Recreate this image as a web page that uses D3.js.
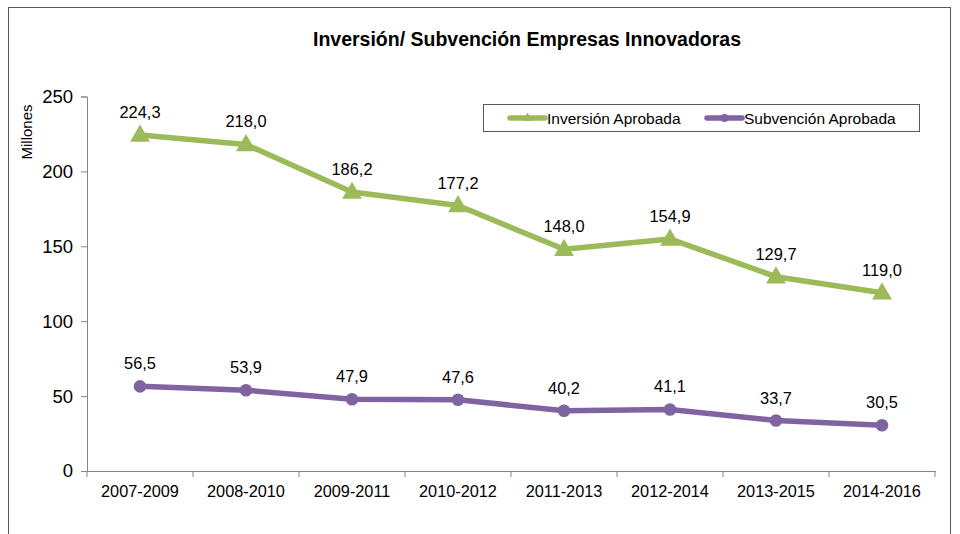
<!DOCTYPE html>
<html>
<head>
<meta charset="utf-8">
<script src="https://cdn.jsdelivr.net/npm/d3@7"></script>
<style>
  html, body { margin: 0; padding: 0; background: #fff; }
  svg { display: block; font-family: Arial, "Liberation Sans", sans-serif; }
</style>
</head>
<body>
<script>
const periods = ["2007-2009", "2008-2010", "2009-2011", "2010-2012", "2011-2013", "2012-2014", "2013-2015", "2014-2016"];
const inversion = [224.3, 218.0, 186.2, 177.2, 148.0, 154.9, 129.7, 119.0];
const subvencion = [56.5, 53.9, 47.9, 47.6, 40.2, 41.1, 33.7, 30.5];
const yTicks = [0, 50, 100, 150, 200, 250];

const series = [
  { name: "Inversión Aprobada", values: inversion, color: "#9BBB59", marker: "triangle" },
  { name: "Subvención Aprobada", values: subvencion, color: "#8064A2", marker: "circle" }
];

const width = 960, height = 534;
const margin = { top: 96.5, right: 25, bottom: 63, left: 87 };
const innerW = width - margin.left - margin.right;
const innerH = height - margin.top - margin.bottom;

const fmt = (v) => v.toFixed(1).replace(".", ",");

const svg = d3.select("body").append("svg")
  .attr("width", width)
  .attr("height", height);

// outer frame
svg.append("rect")
  .attr("x", 8.5).attr("y", 7.5)
  .attr("width", 942).attr("height", 530)
  .attr("fill", "none")
  .attr("stroke", "#595959")
  .attr("stroke-width", 1);

svg.append("text")
  .attr("x", 527).attr("y", 46)
  .attr("text-anchor", "middle")
  .attr("font-size", 19.5)
  .attr("font-weight", "bold")
  .attr("fill", "#000")
  .text("Inversión/ Subvención Empresas Innovadoras");

const root = svg.append("g").attr("transform", `translate(${margin.left},${margin.top})`);

const x = d3.scaleBand().domain(periods).range([0, innerW]);
const y = d3.scaleLinear().domain([0, 250]).range([innerH, 0]);

// y axis
const yAxis = root.append("g")
  .call(d3.axisLeft(y).tickValues(yTicks).tickSize(6).tickPadding(8));
yAxis.select(".domain").attr("stroke", "#868686");
yAxis.selectAll(".tick line").attr("stroke", "#868686");
yAxis.selectAll(".tick text").attr("font-size", 18.5).attr("fill", "#000")
  .attr("font-family", "Arial, 'Liberation Sans', sans-serif");

// x axis
const xAxis = root.append("g")
  .attr("transform", `translate(0,${innerH})`)
  .call(d3.axisBottom(x).tickSize(0).tickPadding(14));
xAxis.select(".domain").attr("stroke", "#868686");
xAxis.selectAll(".tick text").attr("font-size", 16.3).attr("fill", "#000")
  .attr("font-family", "Arial, 'Liberation Sans', sans-serif");
// boundary ticks between categories
root.append("g")
  .selectAll("line")
  .data(periods.map((p) => x(p)).concat([innerW]))
  .join("line")
  .attr("x1", (d) => d).attr("x2", (d) => d)
  .attr("y1", innerH).attr("y2", innerH + 6)
  .attr("stroke", "#868686");

svg.append("text")
  .attr("transform", "translate(32,132) rotate(-90)")
  .attr("text-anchor", "middle")
  .attr("font-size", 15)
  .attr("fill", "#000")
  .text("Millones");

const cx = (i) => x(periods[i]) + x.bandwidth() / 2;
const line = d3.line().x((d, i) => cx(i)).y((d) => y(d));
const tri = d3.symbol().type(d3.symbolTriangle).size(170);

series.forEach((s) => {
  const g = root.append("g");
  g.append("path")
    .attr("d", line(s.values))
    .attr("fill", "none")
    .attr("stroke", s.color)
    .attr("stroke-width", 5.5)
    .attr("stroke-linejoin", "round");
  if (s.marker === "triangle") {
    g.selectAll("path.m").data(s.values).join("path")
      .attr("class", "m")
      .attr("d", tri)
      .attr("transform", (d, i) => `translate(${cx(i)},${y(d) + 1})`)
      .attr("fill", s.color);
  } else {
    g.selectAll("circle").data(s.values).join("circle")
      .attr("cx", (d, i) => cx(i))
      .attr("cy", (d) => y(d))
      .attr("r", 6.3)
      .attr("fill", s.color);
  }
  g.selectAll("text").data(s.values).join("text")
    .attr("x", (d, i) => cx(i))
    .attr("y", (d) => y(d) - 17)
    .attr("text-anchor", "middle")
    .attr("font-size", 16.4)
    .attr("fill", "#000")
    .text(fmt);
});

// legend
const legend = svg.append("g");
legend.append("rect")
  .attr("x", 483.5).attr("y", 104.5)
  .attr("width", 436).attr("height", 27)
  .attr("fill", "#fff")
  .attr("stroke", "#595959");
const legendX = [510, 707];
series.forEach((s, i) => {
  const lg = legend.append("g").attr("transform", `translate(${legendX[i]},118)`);
  lg.append("line").attr("x1", 0).attr("x2", 35)
    .attr("stroke", s.color).attr("stroke-width", 5.5).attr("stroke-linecap", "round");
  if (s.marker === "triangle") {
    lg.append("path").attr("d", d3.symbol().type(d3.symbolTriangle).size(40))
      .attr("transform", "translate(17.5,0)").attr("fill", s.color);
  } else {
    lg.append("circle").attr("cx", 17.5).attr("r", 4).attr("fill", s.color);
  }
  lg.append("text").attr("x", 37).attr("y", 5.5)
    .attr("font-size", 15.5).attr("fill", "#000")
    .text(s.name);
});
</script>
</body>
</html>
